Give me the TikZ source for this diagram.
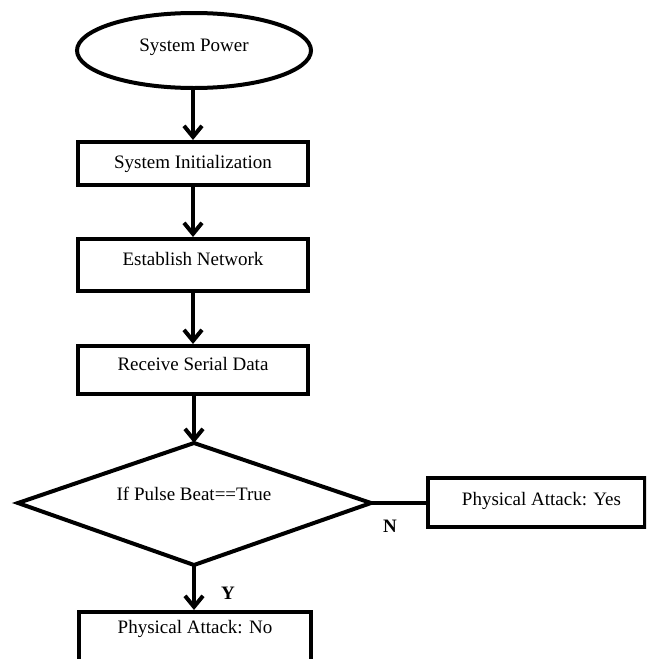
\documentclass[tikz,border=0pt]{standalone}
\usepackage{fontspec}
\setmainfont{Liberation Serif}
\usetikzlibrary{shapes.geometric,arrows.meta}
\begin{document}
\begin{tikzpicture}[x=1pt,y=-1pt,
  every node/.style={font=\fontsize{19}{23}\selectfont, inner sep=0pt},
  line/.style={line width=4pt},
  flowarrow/.style={line, -{Straight Barb[length=11pt,width=18pt,line width=4pt]}},
  procbox/.style={draw, line width=4pt, rectangle, minimum width=230pt},
  startnode/.style={draw, line width=4pt, ellipse, minimum width=234pt, minimum height=75pt},
  branchlabel/.style={font=\fontsize{19}{23}\selectfont\bfseries}
]
\useasboundingbox (0,0) rectangle (646,659);
\clip (0,0) rectangle (646,659);

% start terminal
\node[startnode, text depth=10pt] (power) at (194,50.5) {System Power};

% processing steps
\node[procbox, minimum height=43pt] (init) at (193,163.5) {System Initialization};
\node[procbox, minimum height=52pt, text depth=12pt] (net) at (193,265) {Establish Network};
\node[procbox, minimum height=48pt, text depth=12pt] (serial) at (193,370) {Receive Serial Data};

% decision diamond
\coordinate (dtop) at (194,443);
\coordinate (dright) at (371,503);
\coordinate (dbottom) at (194,565);
\coordinate (dleft) at (18,503);
\draw[line, line join=miter] (dtop) -- (dright) -- (dbottom) -- (dleft) -- cycle;
\node (check) at (194,494) {If Pulse Beat==True};

% outcomes
\node[draw, line width=4pt, rectangle, minimum width=217pt, minimum height=49pt,
      text depth=8pt] (yes) at (536.5,502.5) {\hspace{10pt}Physical Attack: Yes};
\node[draw, line width=4pt, rectangle, minimum width=232pt, minimum height=70pt,
      text depth=40pt] (no) at (195,647) {Physical Attack: No};

% connectors
\draw[flowarrow] (power.south -| init.north) -- (init.north);
\draw[flowarrow] (init.south) -- (net.north);
\draw[flowarrow] (net.south) -- (serial.north);
\draw[flowarrow] (dtop |- serial.south) -- (dtop);
\draw[line] (dright) -- (yes.west |- dright);
\draw[flowarrow] (dbottom) -- (dbottom |- no.north);

% branch labels
\node[branchlabel] (nlabel) at (390,526) {N};
\node[branchlabel] (ylabel) at (228,593) {Y};
\end{tikzpicture}
\end{document}
